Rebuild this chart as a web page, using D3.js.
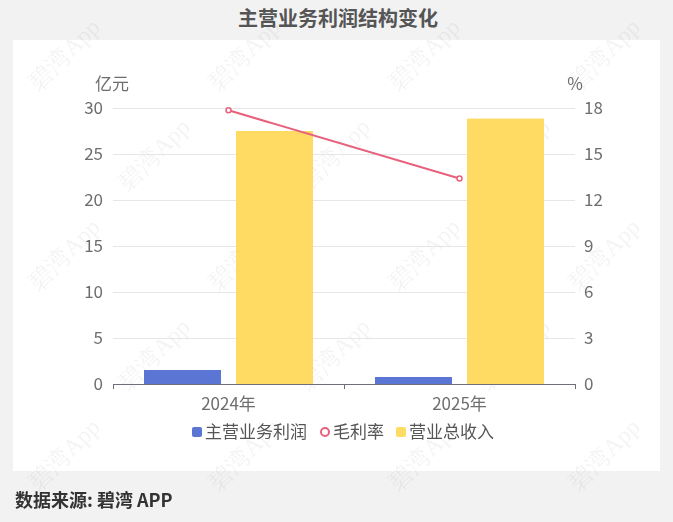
<!DOCTYPE html>
<html><head><meta charset="utf-8">
<script src="https://cdn.jsdelivr.net/npm/d3@7"></script>
<style>body{margin:0;background:#f2f2f2;font-family:"Noto Sans CJK SC","Noto Sans",sans-serif;}</style>
</head><body><svg id="c" width="673" height="522"></svg>
<script>
const categories = ["2024年", "2025年"];
const mainProfit = [1.52, 0.76];
const revenue = [27.5, 28.85];
const grossMargin = [17.85, 13.4];
const leftTicks = [0, 5, 10, 15, 20, 25, 30];
const rightTicks = [0, 3, 6, 9, 12, 15, 18];
const seriesNames = ["主营业务利润", "毛利率", "营业总收入"];

const svg = d3.select("#c");
const font = '"Noto Sans CJK SC","Noto Sans",sans-serif';
svg.append("rect").attr("width", 673).attr("height", 522).attr("fill", "#f2f2f2");
svg.append("rect").attr("x", 13).attr("y", 40).attr("width", 647).attr("height", 431).attr("fill", "#fff");

svg.append("text").attr("x", 338).attr("y", 26).attr("text-anchor", "middle")
  .attr("font-family", font).attr("font-weight", "bold").attr("font-size", 20).attr("fill", "#555")
  .text("主营业务利润结构变化");

const L = 113, R = 575, T = 108, B = 384;
const x = d3.scaleBand().domain(categories).range([L, R]);
const yL = d3.scaleLinear().domain([0, 30]).range([B, T]);
const yR = d3.scaleLinear().domain([0, 18]).range([B, T]);

// watermarks
const wm = svg.append("g").attr("font-family", "serif").attr("font-size", 24).attr("fill", "#000").attr("opacity", 0.045);
const wpos = [];
for (let r = 0; r < 5; r++) for (let c = 0; c < 4; c++) wpos.push([70 + c * 180 + (r % 2) * 90, 60 + r * 100]);
wm.selectAll("text").data(wpos.filter(d => d[0] < 640 && d[1] < 490)).join("text")
  .attr("transform", d => `translate(${d[0]},${d[1]}) rotate(-45)`).attr("text-anchor", "middle").text("碧湾App");

// grid
svg.append("g").selectAll("line").data(leftTicks.slice(1)).join("line")
  .attr("x1", L).attr("x2", R).attr("y1", d => Math.round(yL(d)) + 0.5).attr("y2", d => Math.round(yL(d)) + 0.5)
  .attr("stroke", "#e6e6e6").attr("stroke-width", 1);

// axis labels
svg.append("g").selectAll("text").data(leftTicks).join("text")
  .attr("x", 103).attr("y", d => yL(d)).attr("dy", "0.35em").attr("text-anchor", "end")
  .attr("font-family", font).attr("font-size", 17).attr("fill", "#6e6e6e").text(d => d);
svg.append("g").selectAll("text").data(rightTicks).join("text")
  .attr("x", 584).attr("y", d => yR(d)).attr("dy", "0.35em").attr("text-anchor", "start")
  .attr("font-family", font).attr("font-size", 17).attr("fill", "#6e6e6e").text(d => d);
svg.append("text").attr("x", 112).attr("y", 90).attr("text-anchor", "middle")
  .attr("font-family", font).attr("font-size", 17).attr("fill", "#6e6e6e").text("亿元");
svg.append("text").attr("x", 575).attr("y", 90).attr("text-anchor", "middle")
  .attr("font-family", font).attr("font-size", 17).attr("fill", "#6e6e6e").text("%");

// bars
const inner = d3.scaleBand().domain(["a", "b"]).range([0, x.bandwidth()]).paddingInner(0.163).paddingOuter(0.337);
const blue = "#5a75d3", yellow = "#ffdb63", pink = "#e8617c";
svg.append("g").selectAll("rect").data(categories).join("rect")
  .attr("x", d => x(d) + inner("a")).attr("width", inner.bandwidth())
  .attr("y", (d, i) => yL(mainProfit[i])).attr("height", (d, i) => B - yL(mainProfit[i]))
  .attr("fill", blue);
svg.append("g").selectAll("rect").data(categories).join("rect")
  .attr("x", d => x(d) + inner("b")).attr("width", inner.bandwidth())
  .attr("y", (d, i) => yL(revenue[i])).attr("height", (d, i) => B - yL(revenue[i]))
  .attr("fill", yellow);

// x axis
svg.append("line").attr("x1", L).attr("x2", R).attr("y1", B + 0.5).attr("y2", B + 0.5).attr("stroke", "#6e7079");
svg.append("g").selectAll("line").data([L, L + x.bandwidth(), R]).join("line")
  .attr("x1", d => d + 0.5).attr("x2", d => d + 0.5).attr("y1", B).attr("y2", B + 5).attr("stroke", "#6e7079");
svg.append("g").selectAll("text").data(categories).join("text")
  .attr("x", d => x(d) + x.bandwidth() / 2).attr("y", B + 26).attr("text-anchor", "middle")
  .attr("font-family", font).attr("font-size", 17).attr("fill", "#6e6e6e").text(d => d);

// line
const pts = categories.map((c, i) => [x(c) + x.bandwidth() / 2, yR(grossMargin[i])]);
svg.append("path").attr("d", d3.line()(pts)).attr("fill", "none").attr("stroke", pink).attr("stroke-width", 2);
svg.append("g").selectAll("circle").data(pts).join("circle")
  .attr("cx", d => d[0]).attr("cy", d => d[1]).attr("r", 2.5)
  .attr("fill", "#fff").attr("stroke", pink).attr("stroke-width", 1.5);

// legend
const lg = svg.append("g").attr("font-family", font).attr("font-size", 17).attr("fill", "#555");
const items = [
  {n: seriesNames[0], x: 192, type: "rect", c: blue},
  {n: seriesNames[1], x: 320, type: "circle", c: pink},
  {n: seriesNames[2], x: 396, type: "rect", c: yellow}
];
items.forEach(it => {
  if (it.type === "rect") lg.append("rect").attr("x", it.x).attr("y", 427).attr("width", 10).attr("height", 10).attr("rx", 2).attr("fill", it.c);
  else lg.append("circle").attr("cx", it.x + 5).attr("cy", 432).attr("r", 4).attr("fill", "#fff").attr("stroke", it.c).attr("stroke-width", 2);
  lg.append("text").attr("x", it.x + 13).attr("y", 432).attr("dy", "0.35em").attr("fill", "#555").text(it.n);
});

svg.append("text").attr("x", 15).attr("y", 507).attr("font-family", font).attr("font-weight", "bold")
  .attr("font-size", 18).attr("fill", "#333").text("数据来源: 碧湾 APP");
</script></body></html>
